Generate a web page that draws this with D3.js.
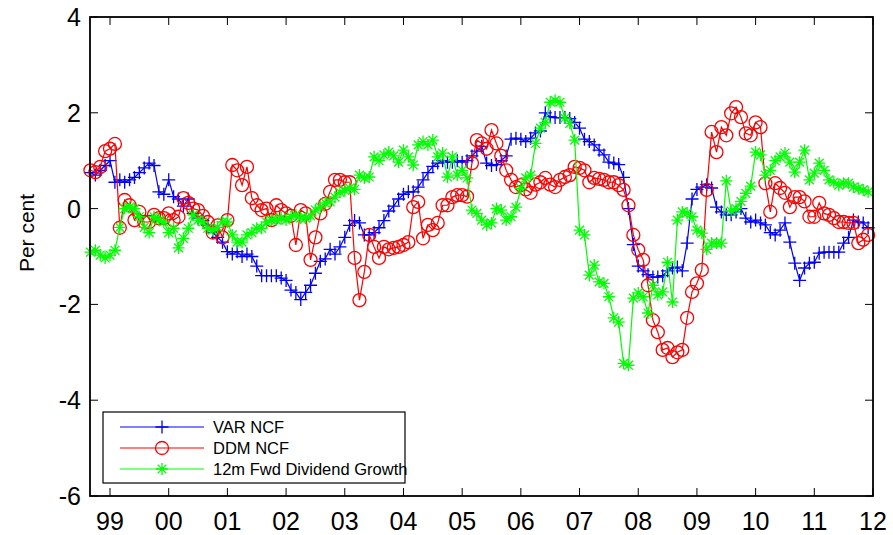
<!DOCTYPE html>
<html>
<head>
<meta charset="utf-8">
<script src="https://cdn.jsdelivr.net/npm/d3@7"></script>
<style>
  body { margin: 0; background: #fff; }
  text { font-family: "Liberation Sans", Arial, sans-serif; }
</style>
</head>
<body>
<div id="chart"></div>
<script>
// monthly, Sep 1998 .. Dec 2011
var startYear = 1998, startMonth = 8;

var varNcf = [
  0.75, 0.7, 0.8, 0.9,
  1.0, 0.55, 0.6, 0.55, 0.6, 0.65, 0.75, 0.85, 0.95, 0.9, 0.35, 0.3,
  0.6, 0.25, 0.2, 0.05, 0.2, -0.1, -0.2, -0.25, -0.35, -0.5, -0.6, -0.7,
  -0.9, -0.95, -0.9, -1.0, -0.95, -1.0, -1.2, -1.4, -1.4, -1.4, -1.4, -1.45,
  -1.5, -1.7, -1.75, -1.9, -1.75, -1.6, -1.35, -1.1, -1.05, -0.85, -0.95, -0.8,
  -0.6, -0.35, -0.25, -0.3, -0.55, -0.55, -0.5, -0.4, -0.25, -0.05, 0.05, 0.2,
  0.3, 0.35, 0.35, 0.45, 0.6, 0.75, 0.88, 0.95, 1.0, 0.97, 0.97, 1.0,
  0.97, 1.0, 1.1, 1.2, 1.3, 0.95, 0.9, 0.92, 1.0, 1.1, 1.45, 1.47,
  1.45, 1.4, 1.47, 1.58, 1.62, 2.0, 1.92, 1.9, 1.9, 1.9, 1.88, 1.8,
  1.68, 1.45, 1.4, 1.33, 1.22, 1.12, 0.97, 0.95, 0.92, 0.65, 0.0, -0.75,
  -1.2, -1.3, -1.38, -1.43, -1.43, -1.4, -1.3, -1.24, -1.22, -1.3, -0.72, 0.2,
  0.4, 0.45, 0.5, 0.43, 0.03, -0.07, -0.13, -0.13, -0.07, 0.0, -0.2, -0.28,
  -0.24, -0.3, -0.34, -0.5, -0.55, -0.45, -0.3, -0.7, -1.14, -1.5, -1.24, -1.14,
  -1.12, -0.93, -0.91, -0.91, -0.91, -0.91, -0.72, -0.6, -0.24, -0.28, -0.3, -0.4
];

var ddmNcf = [
  0.8, 0.76, 0.87, 1.2,
  1.25, 1.35, -0.4, 0.18, 0.07, -0.24, -0.07, -0.28, -0.28, -0.13, -0.2, -0.2,
  -0.1, -0.24, -0.17, 0.22, 0.12, 0.0, -0.03, -0.15, -0.28, -0.5, -0.35, -0.6,
  -0.24, 0.91, 0.8, 0.49, 0.87, 0.22, 0.07, -0.03, 0.0, -0.24, 0.07, -0.03,
  -0.1, -0.15, -0.76, -0.03, -0.1, -1.07, -0.6, -0.1, 0.1, 0.35, 0.6, 0.6,
  0.55, 0.55, -1.03, -1.91, -1.32, -0.55, -0.8, -1.03, -0.8, -0.85, -0.82, -0.8,
  -0.76, -0.7, 0.03, 0.14, -0.62, -0.34, -0.45, -0.3, 0.07, 0.07, 0.24, 0.28,
  0.28, 0.25, 0.95, 1.43, 1.36, 1.25, 1.64, 1.36, 1.1, 0.8, 0.6, 0.45,
  0.49, 0.4, 0.33, 0.5, 0.55, 0.64, 0.5, 0.45, 0.6, 0.66, 0.7, 0.87,
  0.85, 0.8, 0.55, 0.64, 0.62, 0.6, 0.55, 0.55, 0.49, 0.39, 0.07, -0.55,
  -0.86, -1.07, -1.6, -2.33, -2.58, -2.95, -2.91, -3.1, -3.0, -2.95, -2.28, -1.74,
  -1.56, -1.28, 0.39, 1.6, 1.18, 1.7, 1.53, 1.99, 2.12, 1.91, 1.57, 1.53,
  1.8, 1.7, 0.53, -0.07, 0.53, 0.43, 0.33, 0.03, 0.24, 0.24, 0.15, -0.17,
  -0.17, 0.12, -0.1, -0.13, -0.2, -0.28, -0.28, -0.3, -0.3, -0.72, -0.65, -0.55
];

var divGrowth = [
  -0.91, -0.87, -0.97, -1.03,
  -0.97, -0.87, -0.39, 0.0, 0.03, 0.0, -0.17, -0.39, -0.5, -0.17, -0.24, -0.28,
  -0.5, -0.41, -0.82, -0.62, -0.41, -0.13, -0.24, -0.28, -0.41, -0.45, -0.39, -0.28,
  -0.28, -0.55, -0.7, -0.7, -0.55, -0.5, -0.41, -0.41, -0.28, -0.24, -0.24, -0.2,
  -0.24, -0.17, -0.13, -0.2, -0.2, -0.15, -0.03, 0.03, 0.12, 0.14, 0.24, 0.34,
  0.38, 0.43, 0.4, 0.7, 0.64, 0.66, 1.08, 1.0, 1.12, 1.18, 1.1, 0.97,
  1.22, 1.08, 0.91, 1.33, 1.4, 1.33, 1.43, 1.08, 1.16, 0.66, 1.08, 0.7,
  0.8, 0.64, -0.03, -0.1, -0.24, -0.34, -0.3, 0.0, -0.03, -0.24, -0.17, 0.03,
  0.42, 0.64, 0.7, 1.36, 1.68, 1.8, 2.22, 2.26, 2.22, 1.89, 1.78, 1.43,
  -0.45, -0.55, -1.39, -1.18, -1.53, -1.56, -1.84, -2.28, -2.37, -3.23, -3.27, -1.87,
  -1.76, -1.84, -2.18, -1.6, -1.8, -1.74, -1.12, -1.95, -0.24, -0.07, -0.09, -0.17,
  -0.45, -0.51, -0.85, -0.72, -0.72, -0.72, 0.58, -0.05, 0.0, 0.15, 0.32, 0.47,
  1.18, 1.12, 0.7, 0.8, 1.0, 1.08, 1.16, 0.97, 0.76, 0.97, 1.22, 0.6,
  0.74, 0.95, 0.8, 0.6, 0.55, 0.49, 0.53, 0.53, 0.45, 0.42, 0.39, 0.35
];

var seriesNames = ['VAR NCF', 'DDM NCF', '12m Fwd Dividend Growth'];
var seriesColors = ['#0000ff', '#ff0000', '#00ff00'];
var seriesMarkers = ['plus', 'circle', 'star'];
var yearTicks = [1999, 2000, 2001, 2002, 2003, 2004, 2005, 2006, 2007, 2008, 2009, 2010, 2011, 2012];
var yTicks = [-6, -4, -2, 0, 2, 4];

var W = 893, H = 535;
var padL = 90, padR = 873, padT = 17, padB = 496;

var svg = d3.select('#chart').append('svg')
  .attr('width', W)
  .attr('height', H);

var x = d3.scaleLinear().domain([1998.659, 2012]).range([padL, padR]);
var y = d3.scaleLinear().domain([-6, 4]).range([padB, padT]);

var toT = function(i) { return startYear + (startMonth + i) / 12; };

var drawMarker = function(g, kind, color) {
  if (kind === 'plus') {
    g.append('path').attr('d', 'M-6.5,0H6.5M0,-6.5V6.5')
      .attr('stroke', color).attr('stroke-width', 1.3).attr('fill', 'none');
  } else if (kind === 'circle') {
    g.append('circle').attr('r', 6.5)
      .attr('stroke', color).attr('stroke-width', 1.3).attr('fill', 'none');
  } else {
    g.append('path').attr('d', 'M-6,0H6M0,-6V6M-4.4,-4.4L4.4,4.4M-4.4,4.4L4.4,-4.4')
      .attr('stroke', color).attr('stroke-width', 1.3).attr('fill', 'none');
  }
};

var allSeries = [varNcf, ddmNcf, divGrowth];

var line = d3.line()
  .x(function(d, i) { return x(toT(i)); })
  .y(function(d) { return y(d); });

allSeries.forEach(function(vals, s) {
  var g = svg.append('g');
  g.append('path')
    .datum(vals)
    .attr('d', line)
    .attr('fill', 'none')
    .attr('stroke', seriesColors[s])
    .attr('stroke-width', 1.2);

  g.selectAll('g.mk').data(vals).enter().append('g')
    .attr('class', 'mk')
    .attr('transform', function(d, i) { return 'translate(' + x(toT(i)) + ',' + y(d) + ')'; })
    .each(function() { drawMarker(d3.select(this), seriesMarkers[s], seriesColors[s]); });
});

// axes box
svg.append('rect')
  .attr('x', padL).attr('y', padT)
  .attr('width', padR - padL).attr('height', padB - padT)
  .attr('fill', 'none').attr('stroke', '#000').attr('stroke-width', 1.8);

var tickLen = 8;

// x ticks (bottom + top, inward)
yearTicks.forEach(function(t) {
  var px = x(t);
  svg.append('line').attr('x1', px).attr('x2', px).attr('y1', padB).attr('y2', padB - tickLen)
    .attr('stroke', '#000').attr('stroke-width', 1);
  svg.append('line').attr('x1', px).attr('x2', px).attr('y1', padT).attr('y2', padT + tickLen)
    .attr('stroke', '#000').attr('stroke-width', 1);
  svg.append('text')
    .attr('x', px).attr('y', 530)
    .attr('text-anchor', 'middle')
    .attr('font-size', 25)
    .text(d3.format('02d')(t % 100));
});

// y ticks (left + right, inward)
yTicks.forEach(function(v) {
  var py = y(v);
  svg.append('line').attr('x1', padL).attr('x2', padL + tickLen).attr('y1', py).attr('y2', py)
    .attr('stroke', '#000').attr('stroke-width', 1);
  svg.append('line').attr('x1', padR).attr('x2', padR - tickLen).attr('y1', py).attr('y2', py)
    .attr('stroke', '#000').attr('stroke-width', 1);
  svg.append('text')
    .attr('x', 81).attr('y', py + 9)
    .attr('text-anchor', 'end')
    .attr('font-size', 25)
    .text(v);
});

svg.append('text')
  .attr('transform', 'translate(34,233) rotate(-90)')
  .attr('text-anchor', 'middle')
  .attr('font-size', 21)
  .text('Per cent');

// legend
var lg = svg.append('g');
lg.append('rect')
  .attr('x', 103).attr('y', 412).attr('width', 302).attr('height', 71)
  .attr('fill', '#fff').attr('stroke', '#000').attr('stroke-width', 1.2);

seriesNames.forEach(function(name, s) {
  var ly = 427 + s * 21;
  lg.append('line').attr('x1', 120).attr('x2', 204).attr('y1', ly).attr('y2', ly)
    .attr('stroke', seriesColors[s]).attr('stroke-width', 1.2);
  var m = lg.append('g').attr('transform', 'translate(162,' + ly + ')');
  drawMarker(m, seriesMarkers[s], seriesColors[s]);
  lg.append('text')
    .attr('x', 213).attr('y', ly + 6)
    .attr('font-size', 16.5)
    .text(name);
});
</script>
</body>
</html>
